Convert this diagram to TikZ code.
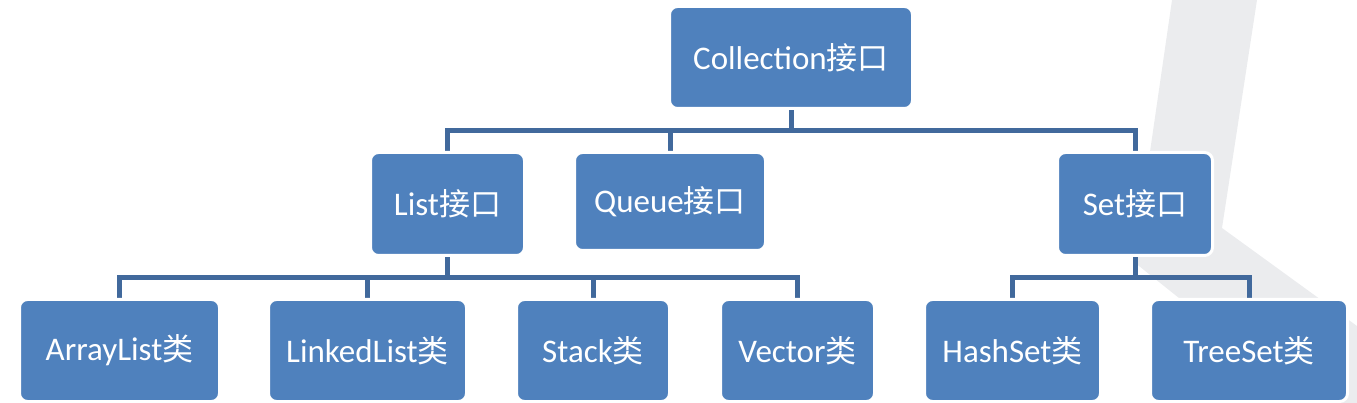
\documentclass[tikz,border=0pt]{standalone}
\usepackage{fontspec}
\setmainfont{Carlito}
\newfontfamily\cjk{Noto Sans CJK SC}
\usetikzlibrary{backgrounds}
\definecolor{boxblue}{HTML}{4F81BD}
\definecolor{linkblue}{HTML}{41699C}
\definecolor{bggray}{HTML}{EBECEE}
\newcommand{\zh}[1]{{\cjk\fontsize{31}{36}\selectfont #1}}
\tikzset{
  box/.style={draw=white, line width=3pt, fill=boxblue, rounded corners=8pt,
    text=white, font=\fontsize{33}{40}\selectfont, inner sep=0pt},
  conn/.style={draw=linkblue, line width=5pt}
}
\begin{document}
\begin{tikzpicture}[x=1pt,y=-1pt]
\useasboundingbox (0,0) rectangle (1357,403);
% nodes
\node[box, minimum width=243pt, minimum height=102pt] (coll) at (791,57.5) {Collection\zh{接口}};
\node[box, minimum width=154pt, minimum height=103pt] (list) at (447.5,204) {List\zh{接口}};
\node[box, minimum width=191pt, minimum height=98pt] (queue) at (670,201.5) {Queue\zh{接口}};
\node[box, minimum width=155pt, minimum height=103pt] (set) at (1135,204) {Set\zh{接口}};
\node[box, minimum width=200pt, minimum height=102pt] (arr) at (119.5,350.5) {ArrayList\zh{类}};
\node[box, minimum width=198pt, minimum height=102pt] (linked) at (367.5,350.5) {LinkedList\zh{类}};
\node[box, minimum width=153pt, minimum height=102pt] (stack) at (593,350.5) {Stack\zh{类}};
\node[box, minimum width=154pt, minimum height=102pt] (vector) at (797.5,350.5) {Vector\zh{类}};
\node[box, minimum width=176pt, minimum height=102pt] (hash) at (1012.5,350.5) {HashSet\zh{类}};
\node[box, minimum width=197pt, minimum height=102pt] (tree) at (1249,350.5) {TreeSet\zh{类}};
\coordinate (bar1) at (0,130.5);
\coordinate (bar2) at (0,277.5);
\coordinate (bar3) at (0,278);
\begin{scope}[on background layer]
  \fill[bggray] (1172,0) -- (1257,0) -- (1222,228) -- (1357,326) -- (1357,403)
    -- (1310,403) -- (1134,262) -- cycle;
  \draw[conn] (coll.south) -- (coll.south |- bar1) -| (list.north);
  \draw[conn] (coll.south |- bar1) -| (queue.north);
  \draw[conn] (coll.south |- bar1) -| (set.north);
  \draw[conn] (list.south) -- (list.south |- bar2) -| (arr.north);
  \draw[conn] (list.south |- bar2) -| (linked.north);
  \draw[conn] (list.south |- bar2) -| (stack.north);
  \draw[conn] (list.south |- bar2) -| (vector.north);
  \draw[conn] (set.south) -- (set.south |- bar3) -| (hash.north);
  \draw[conn] (set.south |- bar3) -| (tree.north);
\end{scope}
\end{tikzpicture}
\end{document}
